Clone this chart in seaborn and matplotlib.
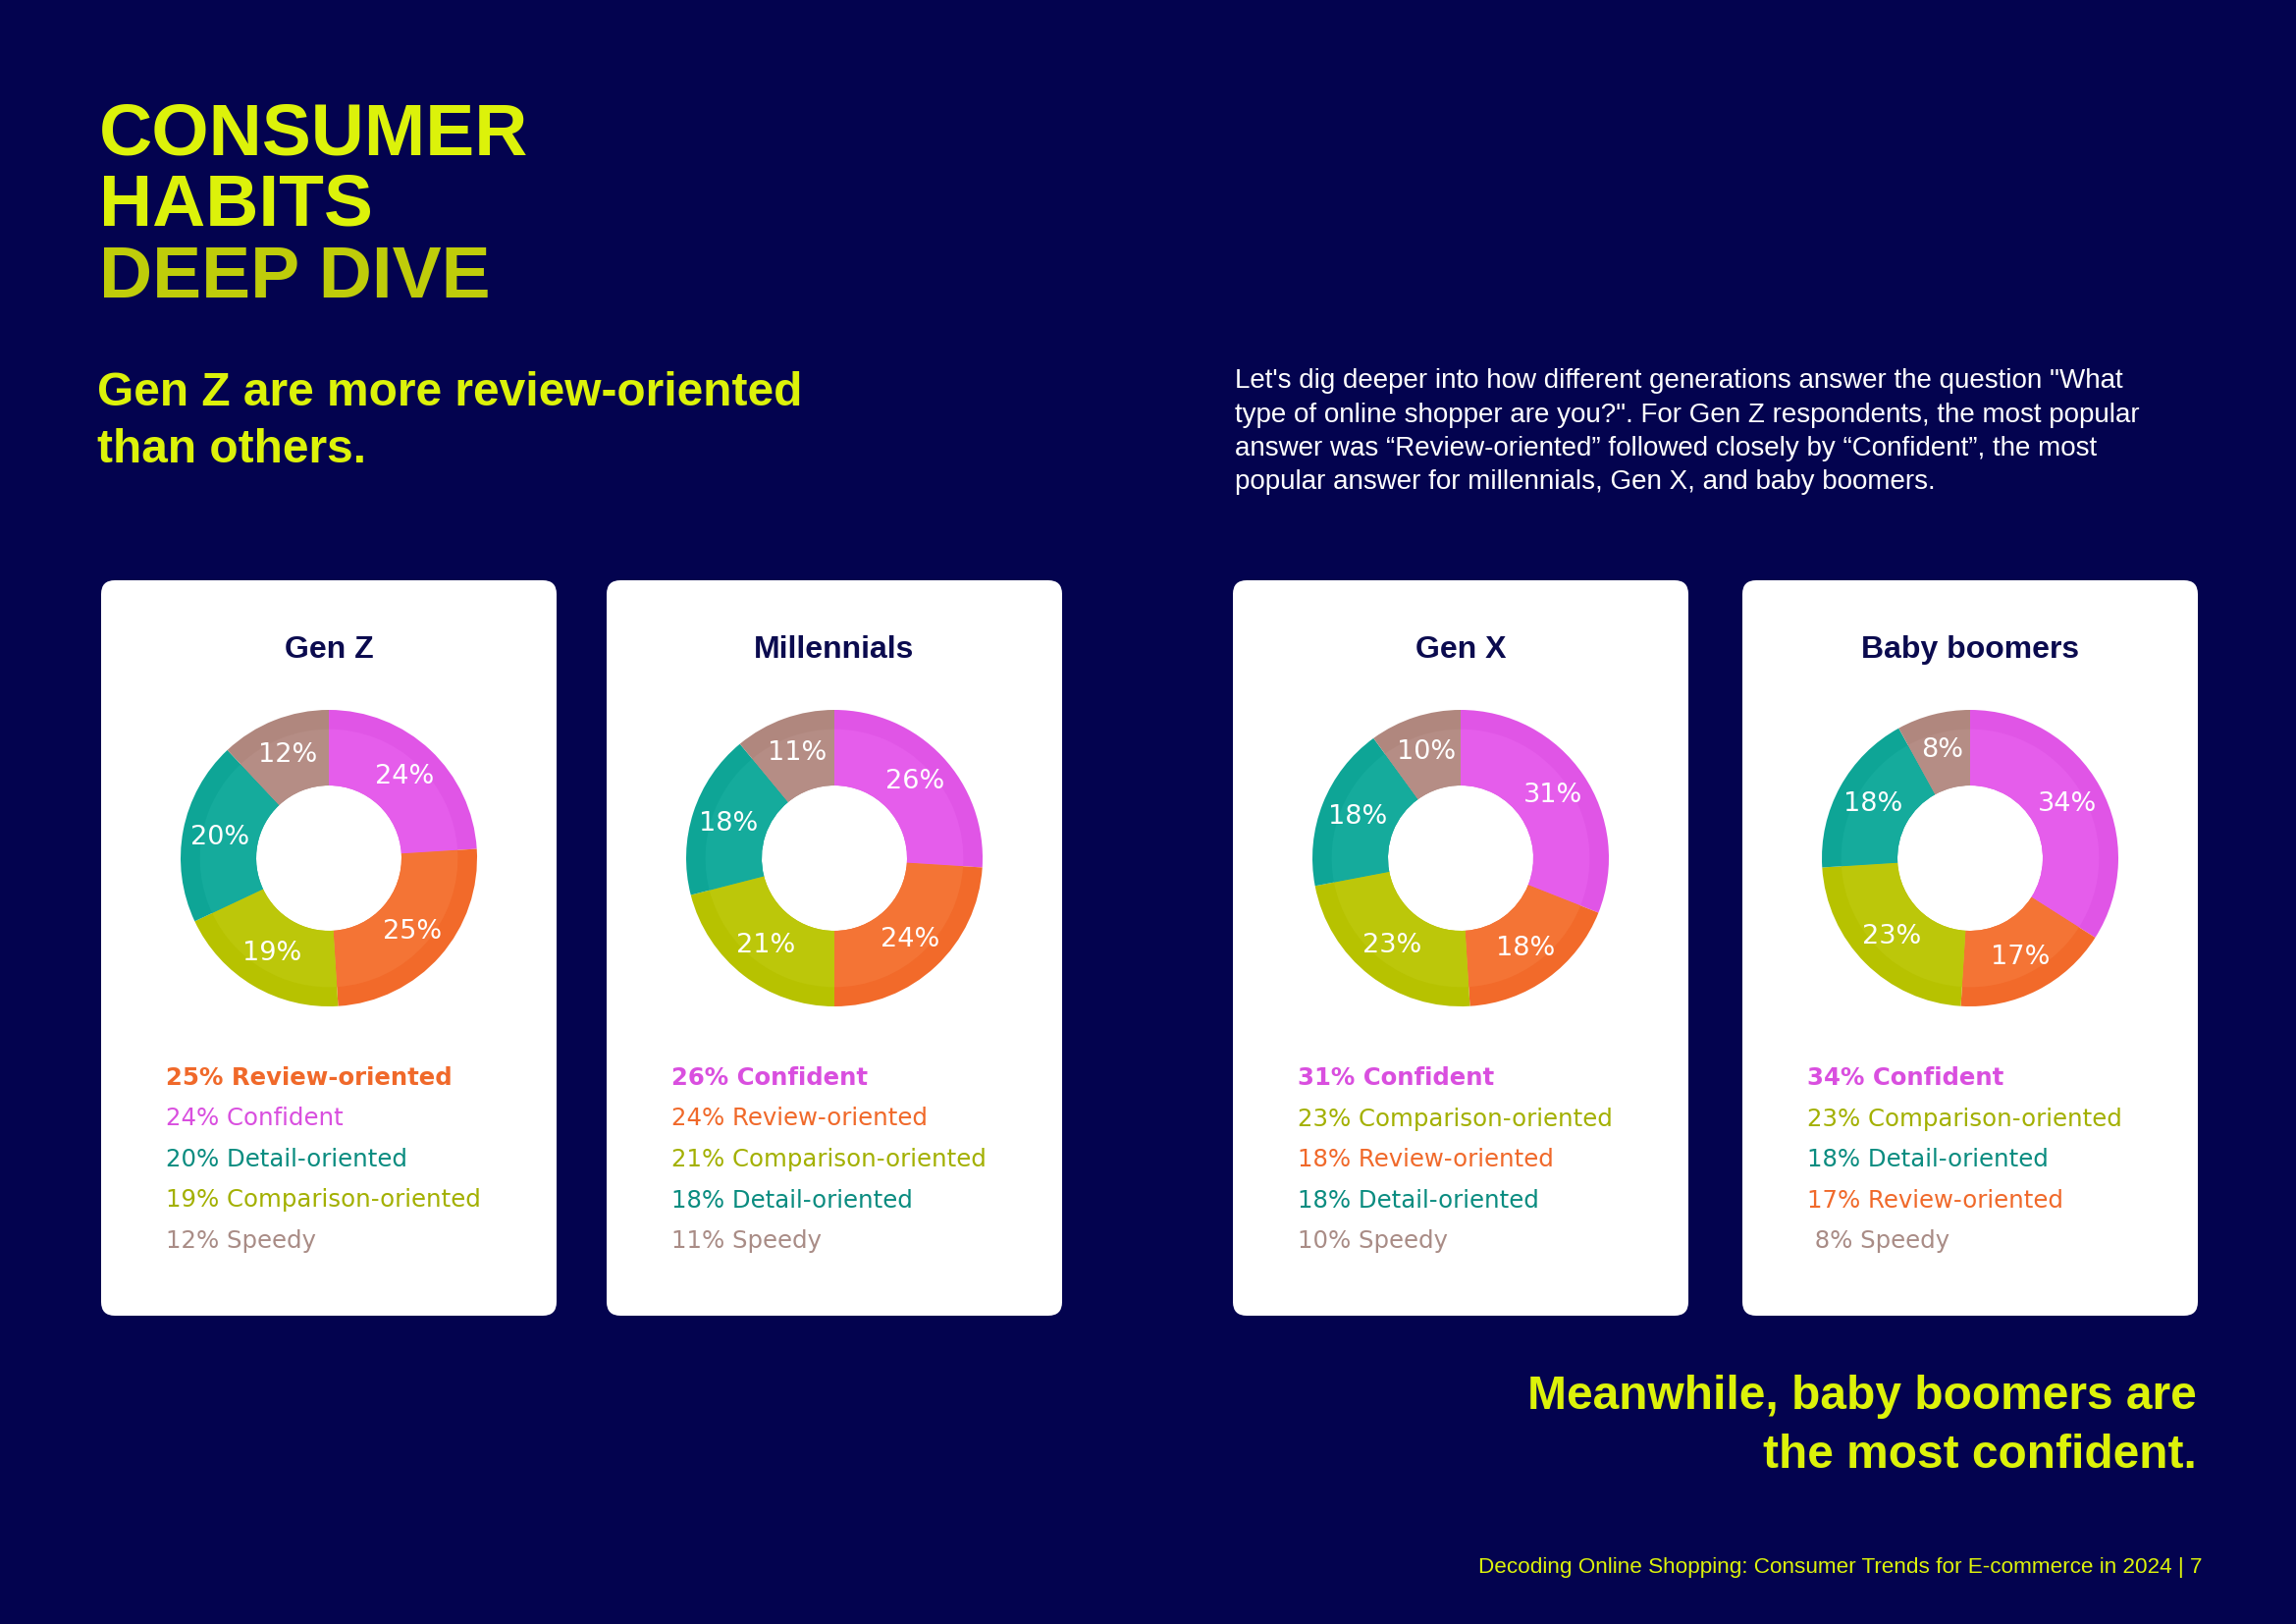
import matplotlib.pyplot as plt
import seaborn as sns
from matplotlib import font_manager
from matplotlib.patches import FancyBboxPatch

# --- data ---
generations = ["Gen Z", "Millennials", "Gen X", "Baby boomers"]
shopper_types = ["Confident", "Review-oriented", "Comparison-oriented", "Detail-oriented", "Speedy"]
gen_z = [24, 25, 19, 20, 12]
millennials = [26, 24, 21, 18, 11]
gen_x = [31, 18, 23, 18, 10]
baby_boomers = [34, 17, 23, 18, 8]
shares = [gen_z, millennials, gen_x, baby_boomers]

title_lines = ["CONSUMER", "HABITS", "DEEP DIVE"]
subtitle = ["Gen Z are more review-oriented", "than others."]
intro = [
    "Let's dig deeper into how different generations answer the question \"What",
    "type of online shopper are you?\". For Gen Z respondents, the most popular",
    "answer was \u201cReview-oriented\u201d followed closely by \u201cConfident\u201d, the most",
    "popular answer for millennials, Gen X, and baby boomers.",
]
closing = ["Meanwhile, baby boomers are", "the most confident."]
footer = "Decoding Online Shopping: Consumer Trends for E-commerce in 2024 | 7"

# --- styles ---
NAVY = "#03034F"
LIME = "#DCF20A"
OLIVE_TITLE = "#BFCC0A"
INK = "#0B0B4F"
slice_colors = ["#E055E6", "#F26A2A", "#B7C200", "#0EA596", "#B0877E"]
inner_colors = ["#E55DEB", "#F47435", "#BCC70A", "#15AB9C", "#B58D85"]
text_colors = ["#D94FDF", "#F0692A", "#A3B000", "#0A8C80", "#A98C86"]


def pick(*names):
    for n in names:
        try:
            font_manager.findfont(font_manager.FontProperties(family=n),
                                  fallback_to_default=False)
            return n
        except ValueError:
            continue
    return "DejaVu Sans"


BODY = pick("Liberation Sans", "DejaVu Sans")
WIDE = "DejaVu Sans"

sns.set_theme(style="white")
plt.rcParams["font.family"] = [BODY, "DejaVu Sans"]

W, H = 2339, 1654
fig = plt.figure(figsize=(W / 100, H / 100), dpi=100, facecolor=NAVY)
bg = fig.add_axes([0, 0, 1, 1])
bg.set_xlim(0, W)
bg.set_ylim(H, 0)
bg.axis("off")
bg.set_facecolor(NAVY)

# headline block
for txt, y, c in zip(title_lines, [158, 230, 303], [LIME, LIME, OLIVE_TITLE]):
    bg.text(101, y, txt, fontsize=54, fontweight="bold", color=c, va="baseline")

for txt, y in zip(subtitle, [413, 471]):
    bg.text(99, y, txt, fontsize=34.5, fontweight="bold", color=LIME, va="baseline")

for i, txt in enumerate(intro):
    bg.text(1258, 395 + i * 34.5, txt, fontsize=20, color="white", va="baseline")

for txt, y in zip(closing, [1435, 1495]):
    bg.text(2238, y, txt, fontsize=34.5, fontweight="bold", color=LIME,
            va="baseline", ha="right")

bg.text(2244, 1602, footer, fontsize=16.2, color=LIME, va="baseline", ha="right")

# cards
card_x = [103, 618, 1256, 1775]
card_y, card_w, card_h = 591, 464, 749
R = 151
cy = 874

for gen, vals, x0 in zip(generations, shares, card_x):
    bg.add_patch(FancyBboxPatch((x0, card_y), card_w, card_h,
                                boxstyle="round,pad=0,rounding_size=14",
                                fc="white", ec="none"))
    cx = x0 + card_w / 2
    bg.text(cx, 670, gen, fontsize=23, fontweight="bold", color=INK,
            ha="center", va="baseline")

    pad = 4
    ax = fig.add_axes([(cx - R - pad) / W, 1 - (cy + R + pad) / H,
                       (2 * R + 2 * pad) / W, (2 * R + 2 * pad) / H])
    ax.pie(vals, colors=slice_colors, startangle=90, counterclock=False,
           radius=1, wedgeprops=dict(width=0.51, linewidth=0),
           autopct=lambda p: f"{p:.0f}%", pctdistance=0.75,
           textprops=dict(color="white", fontsize=19.5, family=WIDE))
    ax.pie(vals, colors=inner_colors, startangle=90, counterclock=False,
           radius=0.87, wedgeprops=dict(width=0.38, linewidth=0))
    lim = 1 + pad / R
    ax.set_xlim(-lim, lim)
    ax.set_ylim(-lim, lim)
    ax.set_aspect("equal")

    # legend lines, largest share first
    order = sorted(range(len(vals)), key=lambda k: -vals[k])
    for j, k in enumerate(order):
        label = f"{vals[k]}% {shopper_types[k]}"
        if vals[k] < 10:
            label = " " + label
        bg.text(x0 + 66, 1105 + j * 41.5, label, fontsize=17.6, family=WIDE,
                fontweight="bold" if j == 0 else "normal",
                color=text_colors[k], va="baseline")

fig.savefig("out.png", dpi=100, facecolor=NAVY)
